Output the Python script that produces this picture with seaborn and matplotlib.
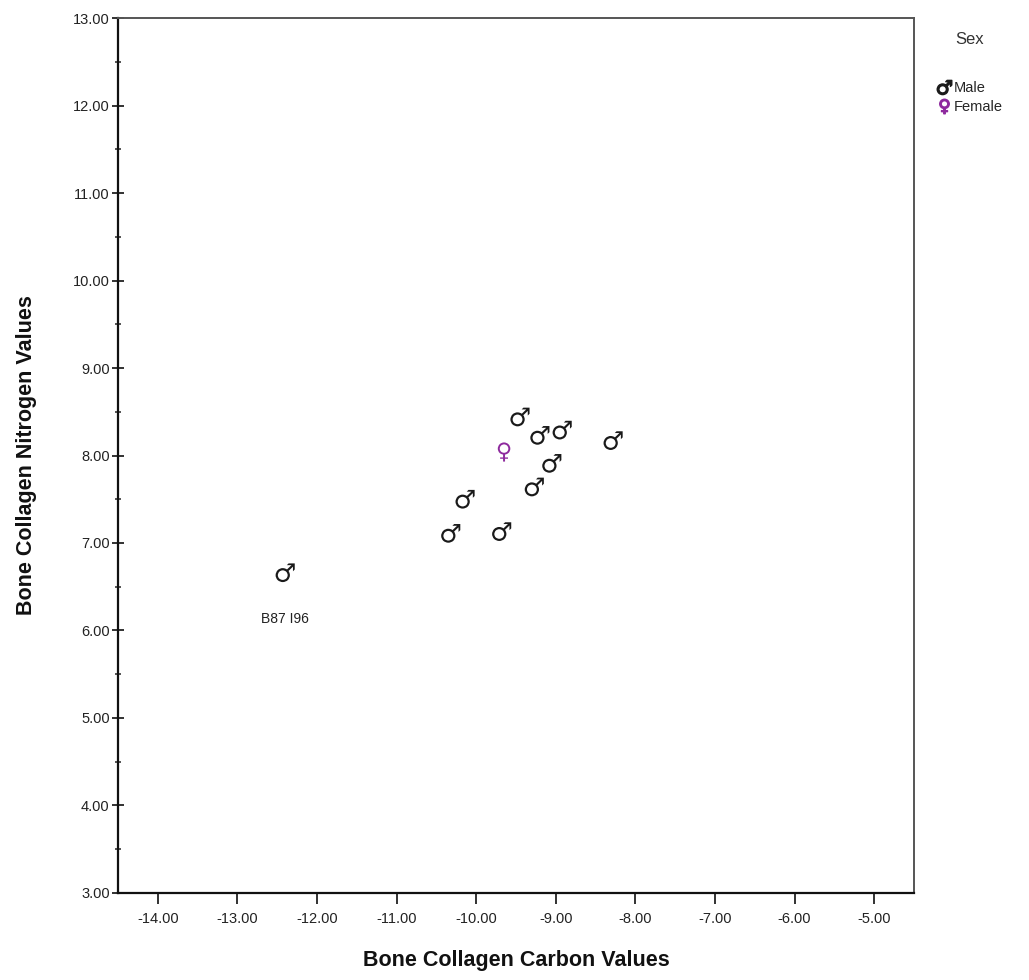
import matplotlib
matplotlib.use("Agg")
import matplotlib.pyplot as plt
import seaborn as sns
import pandas as pd
from matplotlib.ticker import MultipleLocator, FormatStrFormatter
from matplotlib.lines import Line2D

# Stable isotope values per individual
carbon = [-12.40, -10.32, -10.14, -9.68, -9.27, -9.05, -9.45, -9.20, -8.92, -8.28, -9.65]
nitrogen = [6.66, 7.11, 7.50, 7.13, 7.64, 7.91, 8.44, 8.23, 8.29, 8.17, 8.04]
sex = ["Male", "Male", "Male", "Male", "Male", "Male", "Male", "Male", "Male", "Male", "Female"]
point_labels = ["B87 I96", "", "", "", "", "", "", "", "", "", ""]

df = pd.DataFrame({"carbon": carbon, "nitrogen": nitrogen, "Sex": sex, "label": point_labels})

sns.set_theme(style="white")
plt.rcParams["font.family"] = ["Liberation Sans", "DejaVu Sans"]

palette = {"Male": "#1a1a1a", "Female": "#8e2a9e"}
markers = {"Male": "$\u2642$", "Female": "$\u2640$"}

fig = plt.figure(figsize=(10.29, 9.8), dpi=100)
ax = fig.add_axes([0.1147, 0.0888, 0.7735, 0.8928])

sns.scatterplot(data=df, x="carbon", y="nitrogen", hue="Sex", style="Sex",
                palette=palette, markers=markers, s=190, linewidth=0,
                legend=False, ax=ax)

for cx, ny, lab in zip(carbon, nitrogen, point_labels):
    if lab:
        ax.annotate(lab, (cx, ny), xytext=(0, -38), textcoords="offset points",
                    ha="center", va="bottom", fontsize=10, color="#222222")

ax.set_xlim(-14.5, -4.5)
ax.set_ylim(3, 13)
ax.xaxis.set_major_locator(MultipleLocator(1))
ax.yaxis.set_major_locator(MultipleLocator(1))
ax.yaxis.set_minor_locator(MultipleLocator(0.5))
ax.xaxis.set_major_formatter(FormatStrFormatter("%.2f"))
ax.yaxis.set_major_formatter(FormatStrFormatter("%.2f"))
ax.tick_params(axis="x", which="major", direction="out", length=8, width=1.3,
               labelsize=10.5, colors="#222222", pad=6, bottom=True)
ax.tick_params(axis="y", which="major", direction="inout", length=8, width=1.3,
               labelsize=10.5, colors="#222222", pad=2, left=True)
ax.tick_params(axis="y", which="minor", direction="inout", length=5, width=1.1,
               left=True)

for side in ["left", "bottom"]:
    ax.spines[side].set_color("#111111")
    ax.spines[side].set_linewidth(1.6)
for side in ["top", "right"]:
    ax.spines[side].set_color("#555555")
    ax.spines[side].set_linewidth(1.4)

ax.set_xlabel("Bone Collagen Carbon Values", fontsize=15.5, fontweight="bold",
              labelpad=17, color="#111111")
ax.set_ylabel("Bone Collagen Nitrogen Values", fontsize=15.5, fontweight="bold",
              labelpad=26, color="#111111")

handles = [Line2D([], [], linestyle="none", marker=markers[k], color=palette[k],
                  markersize=10.5) for k in ["Male", "Female"]]
leg = fig.legend(handles, ["Male", "Female"], title="Sex", loc="upper left",
                 bbox_to_anchor=(0.911, 0.967), frameon=False, fontsize=10.5,
                 title_fontsize=12, handlelength=0.9, handletextpad=0.2,
                 labelspacing=0.35, borderaxespad=0, borderpad=0)
leg.get_title().set_color("#333333")
leg._legend_box.sep = 24

fig.savefig("out.png", dpi=100)
